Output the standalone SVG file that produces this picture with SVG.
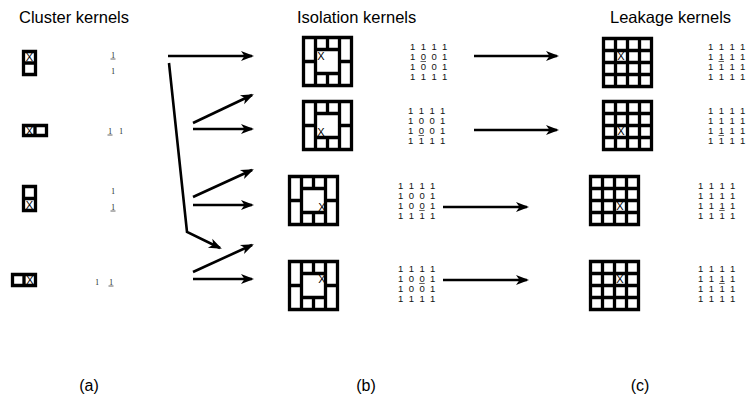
<svg xmlns="http://www.w3.org/2000/svg" xmlns:xlink="http://www.w3.org/1999/xlink" width="746" height="403" viewBox="0 0 746 403">
  <style>
    .title { font-family: "Liberation Sans", Arial, sans-serif; font-size: 16.5px; fill: #000; }
    .label { font-family: "Liberation Sans", Arial, sans-serif; font-size: 16px; fill: #000; text-anchor: middle; }
    .cell { fill: none; stroke: #000; stroke-width: 3.3; stroke-linecap: square; }
    .mark { font-family: "Liberation Sans", Arial, sans-serif; font-size: 11px; fill: #000; text-anchor: middle; }
    .num { font-family: "Liberation Sans", Arial, sans-serif; font-size: 9.5px; fill: #111; }
    .one { font-family: "Liberation Serif", "Times New Roman", serif; font-size: 7.5px; fill: #111; text-anchor: middle; }
    .ul { stroke: #555; stroke-width: 0.9; }
    .arrow { fill: none; stroke: #000; stroke-width: 2.6; marker-end: url(#head); }
  </style>
  <defs>
    <marker id="head" markerUnits="userSpaceOnUse" viewBox="-14 -6 15 12" refX="-2" refY="0" markerWidth="15" markerHeight="12" orient="auto">
      <path d="M0 0 L-13 -5 L-9.5 0 L-13 5 Z" fill="#000"/>
    </marker>
    <!-- outer ring of a 4x4 kernel, centre 2x2 left open -->
    <path id="ring" class="cell" d="M0 0H48V48H0Z M12 12H36V36H12Z M12 0V12 M24 0V12 M36 0V12 M12 36V48 M24 36V48 M36 36V48 M0 24H12 M36 24H48"/>
    <!-- full 4x4 kernel -->
    <path id="full" class="cell" d="M0 0H48V48H0Z M12 0V48 M24 0V48 M36 0V48 M0 12H48 M0 24H48 M0 36H48"/>
  </defs>

  <!-- headings -->
  <g id="headings">
    <text class="title" x="19" y="23">Cluster kernels</text>
    <text class="title" x="297" y="23">Isolation kernels</text>
    <text class="title" x="610" y="23">Leakage kernels</text>
  </g>

  <!-- cluster kernels -->
  <g id="cluster1">
    <path class="cell" d="M23.5 51.5h12v23h-12z M23.5 63h12"/>
    <text class="mark" x="29.5" y="61">X</text>
    <text class="one" x="113" y="58">1</text>
    <line class="ul" x1="110.5" y1="59" x2="115.5" y2="59"/>
    <text class="one" x="113" y="74">1</text>
  </g>
  <g id="cluster2">
    <path class="cell" d="M23.5 125.5h23v10h-23z M35 125.5v10"/>
    <text class="mark" x="29.5" y="134.5">X</text>
    <text class="one" x="110" y="134">1</text>
    <line class="ul" x1="107.5" y1="135" x2="112.5" y2="135"/>
    <text class="one" x="121" y="134">1</text>
  </g>
  <g id="cluster3">
    <path class="cell" d="M23.5 186.5h12v24h-12z M23.5 198.5h12"/>
    <text class="mark" x="29.5" y="209">X</text>
    <text class="one" x="113" y="194">1</text>
    <text class="one" x="113" y="210">1</text>
    <line class="ul" x1="110.5" y1="211" x2="115.5" y2="211"/>
  </g>
  <g id="cluster4">
    <path class="cell" d="M12.5 274.5h23v11h-23z M24 274.5v11"/>
    <text class="mark" x="30" y="284">X</text>
    <text class="one" x="97" y="285">1</text>
    <text class="one" x="111" y="285">1</text>
    <line class="ul" x1="108.5" y1="286" x2="113.5" y2="286"/>
  </g>

  <!-- isolation kernels -->
  <g id="isolation1">
    <use xlink:href="#ring" href="#ring" transform="translate(303.5 37.5)"/>
    <text class="mark" x="321" y="59.5">X</text>
    <text class="num" x="410 420.7 431.4 442.1" y="49.5">1111</text>
    <text class="num" x="410 420.7 431.4 442.1" y="59.5">1001</text>
    <text class="num" x="410 420.7 431.4 442.1" y="69.5">1001</text>
    <text class="num" x="410 420.7 431.4 442.1" y="79.5">1111</text>
    <line class="ul" x1="420.5" y1="61.5" x2="426" y2="61.5"/>
  </g>
  <g id="isolation2">
    <use xlink:href="#ring" href="#ring" transform="translate(303.5 101.5)"/>
    <text class="mark" x="321" y="136">X</text>
    <text class="num" x="408 418.7 429.4 440.1" y="113.5">1111</text>
    <text class="num" x="408 418.7 429.4 440.1" y="123.5">1001</text>
    <text class="num" x="408 418.7 429.4 440.1" y="133.5">1001</text>
    <text class="num" x="408 418.7 429.4 440.1" y="143.5">1111</text>
    <line class="ul" x1="418.5" y1="135.5" x2="424" y2="135.5"/>
  </g>
  <g id="isolation3">
    <use xlink:href="#ring" href="#ring" transform="translate(289.5 176.5)"/>
    <text class="mark" x="322" y="211">X</text>
    <text class="num" x="398 408.7 419.4 430.1" y="188.5">1111</text>
    <text class="num" x="398 408.7 419.4 430.1" y="198.5">1001</text>
    <text class="num" x="398 408.7 419.4 430.1" y="208.5">1001</text>
    <text class="num" x="398 408.7 419.4 430.1" y="218.5">1111</text>
    <line class="ul" x1="419.2" y1="210.5" x2="424.7" y2="210.5"/>
  </g>
  <g id="isolation4">
    <use xlink:href="#ring" href="#ring" transform="translate(289.5 261.5)"/>
    <text class="mark" x="322" y="282.5">X</text>
    <text class="num" x="398 408.7 419.4 430.1" y="271.5">1111</text>
    <text class="num" x="398 408.7 419.4 430.1" y="281.5">1001</text>
    <text class="num" x="398 408.7 419.4 430.1" y="291.5">1001</text>
    <text class="num" x="398 408.7 419.4 430.1" y="301.5">1111</text>
    <line class="ul" x1="419.2" y1="283.5" x2="424.7" y2="283.5"/>
  </g>

  <!-- leakage kernels -->
  <g id="leakage1">
    <use xlink:href="#full" href="#full" transform="translate(603.5 38.5)"/>
    <text class="mark" x="621" y="60">X</text>
    <text class="num" x="708 718.7 729.4 740.1" y="49.5">1111</text>
    <text class="num" x="708 718.7 729.4 740.1" y="59.5">1111</text>
    <text class="num" x="708 718.7 729.4 740.1" y="69.5">1111</text>
    <text class="num" x="708 718.7 729.4 740.1" y="79.5">1111</text>
    <line class="ul" x1="718.5" y1="61.5" x2="724" y2="61.5"/>
  </g>
  <g id="leakage2">
    <use xlink:href="#full" href="#full" transform="translate(603.5 101.5)"/>
    <text class="mark" x="621" y="135">X</text>
    <text class="num" x="708 718.7 729.4 740.1" y="113.5">1111</text>
    <text class="num" x="708 718.7 729.4 740.1" y="123.5">1111</text>
    <text class="num" x="708 718.7 729.4 740.1" y="133.5">1111</text>
    <text class="num" x="708 718.7 729.4 740.1" y="143.5">1111</text>
    <line class="ul" x1="718.5" y1="135.5" x2="724" y2="135.5"/>
  </g>
  <g id="leakage3">
    <use xlink:href="#full" href="#full" transform="translate(590.5 176.5)"/>
    <text class="mark" x="620" y="210">X</text>
    <text class="num" x="698 708.7 719.4 730.1" y="188.5">1111</text>
    <text class="num" x="698 708.7 719.4 730.1" y="198.5">1111</text>
    <text class="num" x="698 708.7 719.4 730.1" y="208.5">1111</text>
    <text class="num" x="698 708.7 719.4 730.1" y="218.5">1111</text>
    <line class="ul" x1="719.2" y1="210.5" x2="724.7" y2="210.5"/>
  </g>
  <g id="leakage4">
    <use xlink:href="#full" href="#full" transform="translate(590.5 261.5)"/>
    <text class="mark" x="620" y="283">X</text>
    <text class="num" x="698 708.7 719.4 730.1" y="271.5">1111</text>
    <text class="num" x="698 708.7 719.4 730.1" y="281.5">1111</text>
    <text class="num" x="698 708.7 719.4 730.1" y="291.5">1111</text>
    <text class="num" x="698 708.7 719.4 730.1" y="301.5">1111</text>
    <line class="ul" x1="719.2" y1="283.5" x2="724.7" y2="283.5"/>
  </g>

  <!-- connectors -->
  <g id="connectors">
    <path class="arrow" d="M168 56H252"/>
    <path class="arrow" d="M169 63L187 232L220 248"/>
    <path class="arrow" d="M193 123L252 95"/>
    <path class="arrow" d="M193 129H252"/>
    <path class="arrow" d="M193 197L252 170"/>
    <path class="arrow" d="M193 205H252"/>
    <path class="arrow" d="M193 272L252 245"/>
    <path class="arrow" d="M193 279H252"/>
    <path class="arrow" d="M474 56H557"/>
    <path class="arrow" d="M474 130H557"/>
    <path class="arrow" d="M443 207H527"/>
    <path class="arrow" d="M443 280H527"/>
  </g>

  <!-- panel labels -->
  <g id="panel-labels">
    <text class="label" x="89" y="391">(a)</text>
    <text class="label" x="366" y="391">(b)</text>
    <text class="label" x="640" y="391">(c)</text>
  </g>
</svg>
